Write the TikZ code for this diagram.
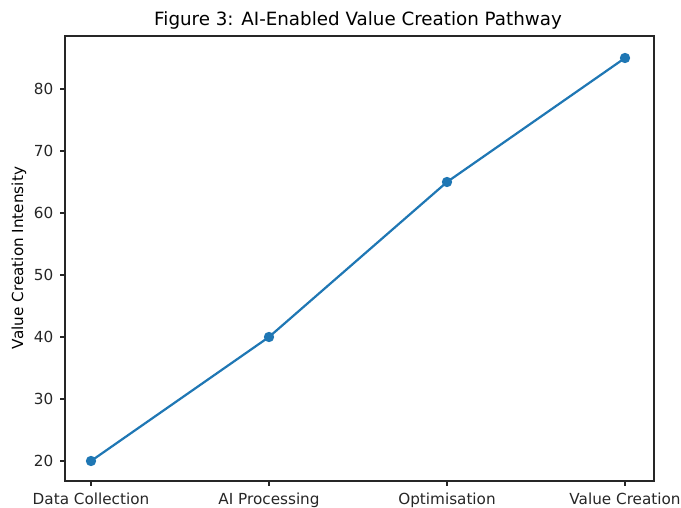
\documentclass[tikz,border=0pt]{standalone}
\usepackage{fontspec}
\setmainfont{DejaVu Sans}
\definecolor{tabblue}{HTML}{1F77B4}
\tikzset{
  spine/.style={line width=0.8pt, black!85},
  tickmark/.style={line width=0.8pt, black!85},
  ticklabel/.style={font=\fontsize{11}{13}\selectfont, inner sep=0pt},
  series/.style={line width=1.6pt, tabblue},
  marker/.style={circle, fill=tabblue, inner sep=0pt, minimum size=7.5pt}
}
\begin{document}
\begin{tikzpicture}[x=0.01in, y=-0.01in]
            \useasboundingbox (0,0) rectangle (681,508);

            % axes frame
            \draw[spine] (65,36) rectangle (654,481);

            % y ticks: 20..80, 6.2px per unit
            \foreach \v in {20,30,...,80} {
                \draw[tickmark] (65,{461-(\v-20)*6.2}) -- ++(-5,0)
                    node[ticklabel, left=4.5pt] {\v};
            }

            % x ticks
            \foreach \x/\lab in {91/Data Collection, 269/AI Processing, 447/Optimisation, 625/Value Creation} {
                \draw[tickmark] (\x,481) -- ++(0,5)
                    node[ticklabel, below=4.5pt] {\lab};
            }

            \node[font=\fontsize{11}{13}\selectfont, rotate=90] (ylab) at (19,258) {Value Creation Intensity};
            \node[font=\fontsize{13.2}{15}\selectfont] (title) at (358,20) {Figure 3: AI-Enabled Value Creation Pathway};

            % data
            \coordinate (p1) at (91,461);
            \coordinate (p2) at (269,337);
            \coordinate (p3) at (447,182);
            \coordinate (p4) at (625,58);
            \draw[series] (p1) -- (p2) -- (p3) -- (p4);
            \foreach \p in {p1,p2,p3,p4}
                \node[marker] at (\p) {};
\end{tikzpicture}
\end{document}
